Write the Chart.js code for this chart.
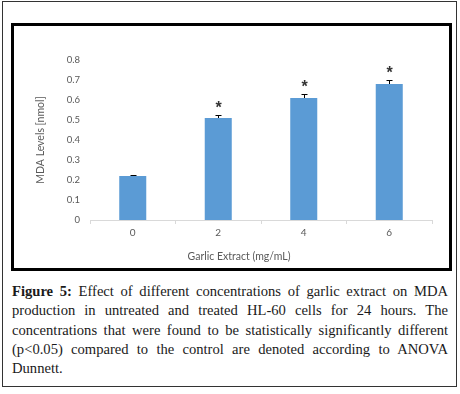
<!DOCTYPE html>
<html>
<head>
<meta charset="utf-8">
<script src="https://cdn.jsdelivr.net/npm/chart.js@4.4.1/dist/chart.umd.min.js"></script>
<style>
  html, body { margin: 0; padding: 0; background: #fff; }
  body { width: 460px; height: 394px; position: relative; overflow: hidden; }
  #frame {
    position: absolute; left: 2px; top: 1px; width: 455px; height: 386px;
    border: 1px solid #333; box-sizing: border-box;
  }
  #chartBox {
    position: absolute; left: 11px; top: 23px; width: 441px; height: 248px;
    border: 3px solid #000; box-sizing: border-box;
  }
  #chartBox canvas { display: block; }
  #caption {
    position: absolute; left: 12px; top: 282px; width: 436px;
    font-family: "Liberation Serif", serif; font-size: 14.6px; line-height: 19.3px;
    color: #1a1a1a;
  }
  #caption div { text-align: justify; text-align-last: justify; white-space: nowrap; }
  #caption div.last { text-align-last: left; }
</style>
</head>
<body>
<div id="frame"></div>
<div id="chartBox"><canvas id="mda" width="435" height="242"></canvas></div>
<div id="caption">
  <div><b>Figure 5:</b> Effect of different concentrations of garlic extract on MDA</div>
  <div>production in untreated and treated HL-60 cells for 24 hours. The</div>
  <div>concentrations that were found to be statistically significantly different</div>
  <div>(p&lt;0.05) compared to the control are denoted according to ANOVA</div>
  <div class="last">Dunnett.</div>
</div>
<script>
// data
const doses = ["0", "2", "4", "6"];
const mdaLevels = [0.22, 0.51, 0.61, 0.68];
const mdaErrors = [0.003, 0.017, 0.018, 0.018];
const sigMarks = ["", "*", "*", "*"];

const barColor = "#5B9BD5";
const textColor = "#595959";
const axisFont = "Lato, 'Liberation Sans', sans-serif";

// error bars (upper only) + significance stars
const errorBarPlugin = {
  id: "errorBars",
  afterDatasetsDraw(chart) {
    const ctx = chart.ctx;
    const yScale = chart.scales.y;
    const bars = chart.getDatasetMeta(0).data;
    ctx.save();
    ctx.strokeStyle = "#000";
    ctx.lineWidth = 1;
    bars.forEach((bar, i) => {
      const x = Math.round(bar.x) + 0.5;
      const yTop = Math.round(yScale.getPixelForValue(mdaLevels[i] + mdaErrors[i])) + 0.5;
      const yVal = yScale.getPixelForValue(mdaLevels[i]);
      ctx.beginPath();
      ctx.moveTo(x, yVal);
      ctx.lineTo(x, yTop);
      ctx.moveTo(x - 3, yTop);
      ctx.lineTo(x + 3, yTop);
      ctx.stroke();
      if (sigMarks[i]) {
        ctx.fillStyle = "#333";
        ctx.font = "bold 16px 'Liberation Sans', sans-serif";
        ctx.textAlign = "center";
        ctx.textBaseline = "middle";
        ctx.fillText(sigMarks[i], x, yTop - 7);
      }
    });
    ctx.restore();
  },
};

// x axis title, drawn a bit left of centre like the original
const xTitlePlugin = {
  id: "xTitle",
  afterDraw(chart) {
    const ctx = chart.ctx;
    const area = chart.chartArea;
    ctx.save();
    ctx.fillStyle = textColor;
    ctx.font = "10.5px " + axisFont;
    ctx.textAlign = "center";
    ctx.textBaseline = "middle";
    ctx.fillText("Garlic Extract (mg/mL)", (area.left + area.right) / 2 - 22, area.bottom + 37);
    ctx.restore();
  },
};

new Chart(document.getElementById("mda"), {
  type: "bar",
  data: {
    labels: doses,
    datasets: [
      {
        data: mdaLevels,
        backgroundColor: barColor,
        borderWidth: 0,
        categoryPercentage: 1,
        barPercentage: 0.316,
      },
    ],
  },
  options: {
    responsive: false,
    animation: false,
    devicePixelRatio: 1,
    layout: { padding: { left: 0, top: 34, right: 17, bottom: 0 } },
    plugins: { legend: { display: false }, tooltip: { enabled: false } },
    scales: {
      x: {
        grid: {
          display: true,
          offset: true,
          drawOnChartArea: false,
          drawTicks: true,
          tickLength: 4,
          color: "#D9D9D9",
        },
        border: { display: true, color: "#D9D9D9", width: 1 },
        ticks: { color: textColor, font: { family: axisFont, size: 10 }, padding: 3 },
        afterFit: (s) => { s.height = 48; },
      },
      y: {
        min: 0,
        max: 0.8,
        grid: { display: false, drawTicks: false },
        border: { display: false },
        ticks: {
          stepSize: 0.1,
          color: textColor,
          font: { family: axisFont, size: 9.5 },
          padding: 10,
          callback: (v) => (Math.round(v * 10) / 10).toString(),
        },
        title: {
          display: true,
          text: "MDA Levels [nmol]",
          color: textColor,
          font: { family: axisFont, size: 10.5 },
          padding: { top: 20, bottom: 0 },
        },
        afterFit: (s) => { s.width = 76; },
      },
    },
  },
  plugins: [errorBarPlugin, xTitlePlugin],
});
</script>
</body>
</html>
